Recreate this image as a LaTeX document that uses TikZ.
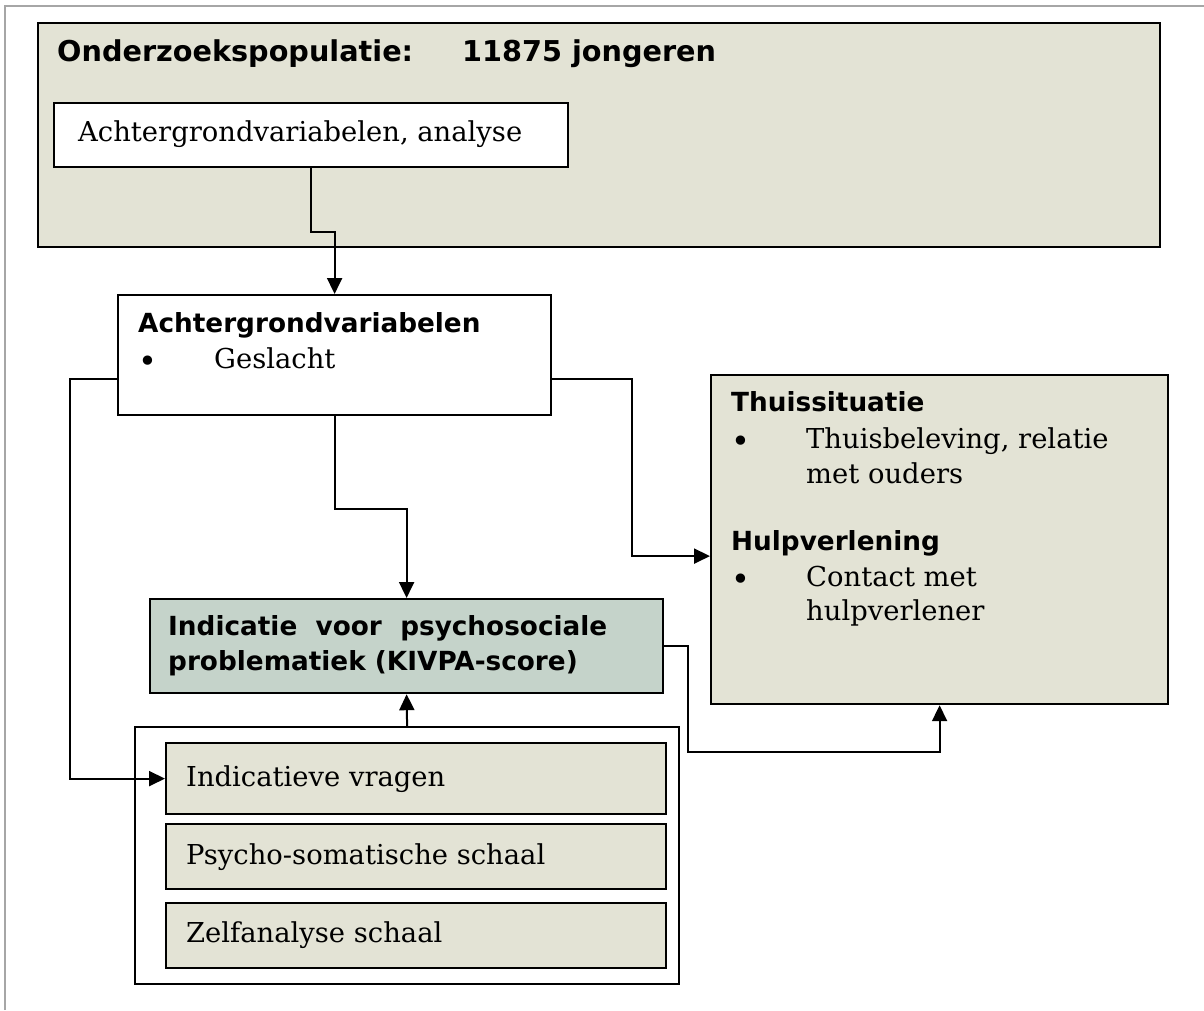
\documentclass[tikz,border=0pt]{standalone}
\usepackage{fontspec}
\setmainfont{DejaVu Serif}
\setsansfont{DejaVu Sans}
\usetikzlibrary{arrows.meta,positioning}
\definecolor{beige}{RGB}{227,227,213}
\definecolor{grijsgroen}{RGB}{197,211,202}
\newcommand{\kop}{\sffamily\bfseries\fontsize{26.3}{35}\selectfont}
\newcommand{\tekst}{\rmfamily\fontsize{27.4}{35}\selectfont}
\newcommand{\bol}[1]{\makebox[#1][l]{\raisebox{-4pt}{\fontsize{32}{35}\selectfont\textbullet}}}
\tikzset{x=1pt, y=-1pt, % pixel units, y runs downwards
>={Triangle[length=16pt,width=15pt]}, % filled arrow heads
box/.style={draw, line width=2.2pt, anchor=north west, inner sep=0pt}, % every frame
txt/.style={anchor=base west, inner sep=0pt}, % text placed on its baseline
conn/.style={->, line width=2pt}, % connectors
}

\begin{document}
\begin{tikzpicture}
\useasboundingbox (0,0) rectangle (1204,1010);
\draw[gray!70, line width=1.6pt] (5,1010) -- (5,6) -- (1204,6);

% population block
\node[box, fill=beige, minimum width=1122pt, minimum height=224pt] (pop) at (37,22) {};
\node[txt] (tpop) at (57,61) {\kop\fontsize{28.7}{35}\selectfont\makebox[405pt][l]{Onderzoekspopulatie:}11875 jongeren};
\node[box, fill=white, minimum width=514pt, minimum height=64pt] (analyse) at (53,102) {};
\node[txt] (tanalyse) at (78,141) {\tekst Achtergrondvariabelen, analyse};

% background variables
\node[box, fill=white, minimum width=433pt, minimum height=120pt] (achter) at (117,294) {};
\node[txt] (tachter) at (138,332) {\kop Achtergrondvariabelen};
\node[txt] (tgeslacht) at (138,368) {\tekst\bol{76pt}Geslacht};

% home situation and help
\node[box, fill=beige, minimum width=457pt, minimum height=329pt] (thuis) at (710,374) {};
\node[txt] (tthuis) at (731,411) {\kop Thuissituatie};
\node[txt] (tbeleving) at (731,448) {\tekst\bol{75pt}Thuisbeleving, relatie};
\node[txt] (touders) at (806,483) {\tekst met ouders};
\node[txt] (thulp) at (731,550) {\kop Hulpverlening};
\node[txt] (tcontact) at (731,586) {\tekst\bol{75pt}Contact met};
\node[txt] (tverlener) at (806,620) {\tekst hulpverlener};

% indication
\node[box, fill=grijsgroen, minimum width=513pt, minimum height=94pt] (indic) at (149,598) {};
\node[txt] (tindic1) at (168,635) {\kop\makebox[439pt][s]{Indicatie voor psychosociale}};
\node[txt] (tindic2) at (168,670) {\kop problematiek (KIVPA-score)};

% scales
\node[box, fill=white, minimum width=544pt, minimum height=257pt] (groep) at (134,726) {};
\node[box, fill=beige, minimum width=500pt, minimum height=71pt] (vragen) at (165,742) {};
\node[box, fill=beige, minimum width=500pt, minimum height=65pt] (psycho) at (165,823) {};
\node[box, fill=beige, minimum width=500pt, minimum height=65pt] (zelf) at (165,902) {};
\node[txt] (tvragen) at (186,786) {\tekst Indicatieve vragen};
\node[txt] (tpsycho) at (186,864) {\tekst Psycho-somatische schaal};
\node[txt] (tzelf) at (186,942) {\tekst Zelfanalyse schaal};

% connectors
\draw[conn] (analyse.south) -- ++(0,64) -| (achter.north);
\draw[conn] (achter.south) -- ++(0,93) -| (indic.north);
\draw[conn] ([yshift=-24pt]achter.west) -- ++(-47,0) |- (vragen.west);
\draw[conn] ([yshift=-24pt]achter.east) -- ++(80,0) |- ([yshift=-16.5pt]thuis.west);
\draw[conn] (indic.east) -- ++(24,0) -- ++(0,106) -| (thuis.south);
\draw[conn] (groep.north) -- (indic.south);
\end{tikzpicture}
\end{document}
